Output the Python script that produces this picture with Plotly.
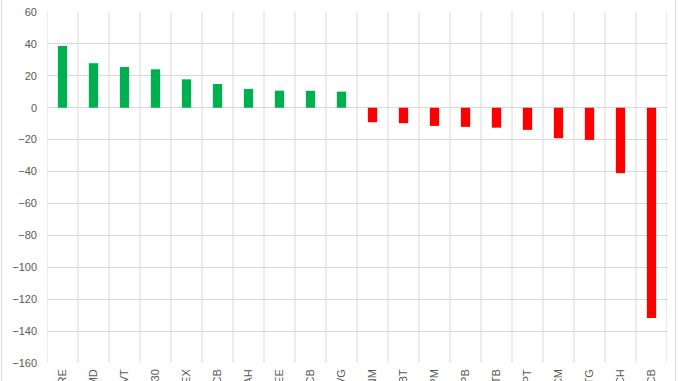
import plotly.graph_objects as go

tickers = ["VRE", "HMD", "PVT", "E1VFVN30", "GEX", "TCB", "HAH", "REE", "VCB", "NVG",
           "VNM", "SBT", "DPM", "VPB", "STB", "FPT", "HCM", "CTG", "TCH", "ACB"]
values = [38.7, 27.9, 25.5, 24.1, 17.8, 14.9, 11.8, 10.7, 10.6, 10.1,
          -9.1, -9.7, -11.4, -12.0, -12.5, -13.9, -19.1, -20.2, -41.0, -131.8]
pos_color = "#00B050"
neg_color = "#FF0000"
colors = [pos_color if v >= 0 else neg_color for v in values]

y_ticks = list(range(-160, 61, 20))

fig = go.Figure(go.Bar(x=tickers, y=values, marker=dict(color=colors, line=dict(width=0)),
                       width=0.3))

fig.update_layout(
    width=678, height=381,
    margin=dict(l=47, r=11, t=12, b=18, autoexpand=False),
    paper_bgcolor="white", plot_bgcolor="white",
    showlegend=False,
    font=dict(family="Liberation Sans, Arial, sans-serif", size=11, color="#595959"),
    xaxis=dict(
        type="category", tickangle=-90, automargin=False,
        showgrid=False, showline=False, ticks="", ticklabelstandoff=3,
        range=[-0.5, len(tickers) - 0.5],
    ),
    yaxis=dict(
        range=[-160, 60], tickvals=y_ticks, automargin=False,
        showgrid=True, gridcolor="#D9D9D9", gridwidth=1,
        zeroline=True, zerolinecolor="#D9D9D9", zerolinewidth=1,
        showline=False, ticks="", ticklabelstandoff=9,
    ),
)

shapes = []
# vertical category gridlines
for i in range(len(tickers) + 1):
    shapes.append(dict(type="line", xref="x", yref="paper", x0=i - 0.5, x1=i - 0.5,
                       y0=0, y1=1, line=dict(color="#D9D9D9", width=1), layer="below"))
# chart border
shapes.append(dict(type="rect", xref="paper", yref="paper",
                   x0=(1.5 - 47) / 620, x1=(675.5 - 47) / 620, y0=-0.2, y1=1.2,
                   line=dict(color="#D9D9D9", width=1), layer="below"))
fig.update_layout(shapes=shapes)

fig.write_html("out.html")
